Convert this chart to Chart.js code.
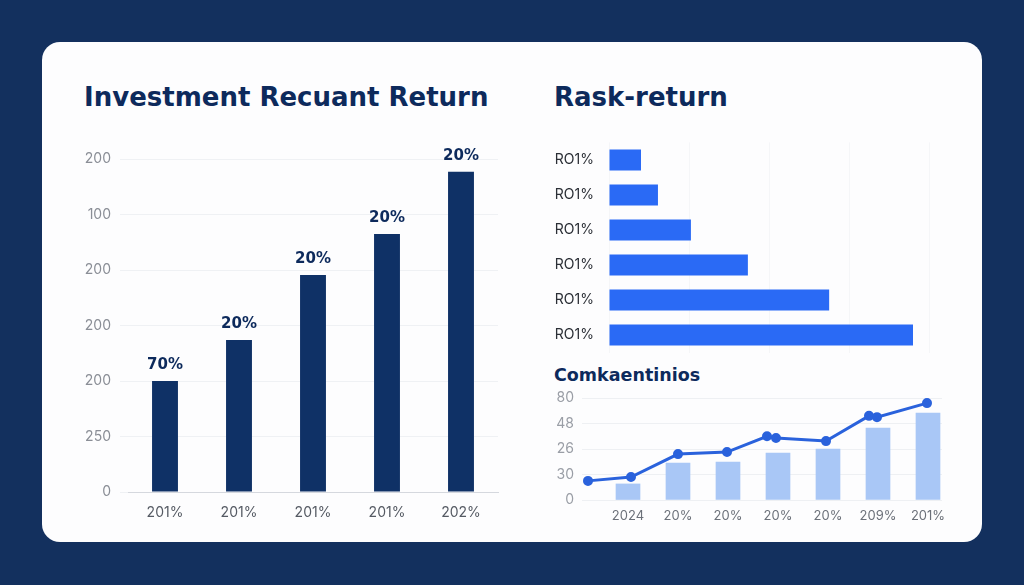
<!DOCTYPE html>
<html>
<head>
<meta charset="utf-8">
<script src="https://cdn.jsdelivr.net/npm/chart.js@4.4.1/dist/chart.umd.min.js"></script>
<style>
  html, body { margin: 0; padding: 0; }
  body { width: 1024px; height: 585px; background: #13305e; position: relative; overflow: hidden; font-family: "Inter", sans-serif; }
  .card { position: absolute; left: 42px; top: 42px; width: 940px; height: 500px; background: #fdfdfe; border-radius: 18px; }
  .title { position: absolute; color: #0d2a5c; font-family: "DejaVu Sans", sans-serif; font-weight: bold; white-space: nowrap; line-height: 1; }
  .box { position: absolute; }
</style>
</head>
<body>
<div class="card"></div>
<div class="title" style="left:84px; top:84px; font-size:26px;">Investment Recuant Return</div>
<div class="title" style="left:554px; top:84px; font-size:26px;">Rask-return</div>
<div class="title" style="left:554px; top:367px; font-size:17.5px;">Comkaentinios</div>

<div class="box" style="left:60px; top:130px; width:450px; height:400px;"><canvas id="returns"></canvas></div>
<div class="box" style="left:550px; top:134px; width:390px; height:227px;"><canvas id="risk"></canvas></div>
<div class="box" style="left:545px; top:385px; width:410px; height:145px;"><canvas id="combo"></canvas></div>

<script>
// left chart
const yearLabels = ["201%", "201%", "201%", "201%", "202%"];
const returnValues = [2.0, 2.74, 3.91, 4.65, 5.77];
const returnTags = ["70%", "20%", "20%", "20%", "20%"];
const returnTicks = ["0", "250", "200", "200", "200", "100", "200"];

// risk-return bars
const riskLabels = ["RO1%", "RO1%", "RO1%", "RO1%", "RO1%", "RO1%"];
const riskValues = [10, 15.3, 25.6, 43.4, 68.8, 95];

// bottom combo
const comboLabels = ["2024", "20%", "20%", "20%", "20%", "209%", "201%"];
const comboBars = [0.63, 1.45, 1.49, 1.84, 2.0, 2.82, 3.41];
const comboLineX = [0.2, 1.06, 2, 2.98, 3.78, 3.96, 4.96, 5.82, 5.98, 6.98];
const comboLineY = [0.75, 0.9, 1.8, 1.88, 2.5, 2.43, 2.31, 3.3, 3.25, 3.8];
const comboTicks = ["0", "30", "26", "48", "80"];

Chart.defaults.font.family = "Inter, sans-serif";
Chart.defaults.animation = false;
Chart.defaults.responsive = true;
Chart.defaults.maintainAspectRatio = false;
Chart.defaults.plugins.legend.display = false;
Chart.defaults.plugins.tooltip.enabled = false;

// value tags above the left bars
const barTags = {
  id: "barTags",
  afterDatasetsDraw(chart) {
    const ctx = chart.ctx;
    const meta = chart.getDatasetMeta(0);
    ctx.save();
    ctx.fillStyle = "#0d2a5c";
    ctx.font = "bold 15px 'DejaVu Sans', sans-serif";
    ctx.textAlign = "center";
    ctx.textBaseline = "alphabetic";
    meta.data.forEach((bar, i) => {
      ctx.fillText(returnTags[i], bar.x, bar.y - 12);
    });
    ctx.restore();
  }
};

new Chart(document.getElementById("returns"), {
  type: "bar",
  data: {
    labels: yearLabels,
    datasets: [{
      data: returnValues,
      backgroundColor: "#0f3166",
      barPercentage: 0.35,
      categoryPercentage: 1
    }]
  },
  options: {
    layout: { padding: { top: 29, right: 12 } },
    scales: {
      x: {
        grid: { display: false },
        border: { color: "#d5d8de" },
        ticks: { color: "#555a63", font: { size: 14 }, padding: 4 },
        afterFit: s => { s.height = 38; }
      },
      y: {
        min: 0,
        max: 6,
        border: { display: false },
        grid: { color: "#eff1f4", tickLength: 8 },
        ticks: {
          stepSize: 1,
          padding: 9,
          color: "#8a8e96",
          font: { size: 14 },
          callback: v => returnTicks[v]
        },
        afterFit: s => { s.width = 68; }
      }
    }
  },
  plugins: [barTags]
});

new Chart(document.getElementById("risk"), {
  type: "bar",
  data: {
    labels: riskLabels,
    datasets: [{
      data: riskValues,
      backgroundColor: "#2a6af5",
      barPercentage: 0.6,
      categoryPercentage: 1
    }]
  },
  options: {
    indexAxis: "y",
    layout: { padding: { right: 11 } },
    scales: {
      x: {
        min: 0,
        max: 100,
        border: { display: false },
        grid: { color: "#f5f6f8", drawTicks: false },
        ticks: { display: false, stepSize: 25 },
        afterFit: s => { s.height = 0; }
      },
      y: {
        border: { display: false },
        grid: { display: false, tickLength: 15 },
        ticks: { color: "#2b2f36", font: { size: 14 }, padding: 0 },
        afterFit: s => { s.width = 59; }
      }
    }
  }
});

new Chart(document.getElementById("combo"), {
  type: "bar",
  data: {
    datasets: [
      {
        type: "line",
        data: comboLineX.map((x, i) => ({ x: x, y: comboLineY[i] })),
        borderColor: "#2a62dc",
        backgroundColor: "#2a62dc",
        borderWidth: 3,
        pointRadius: 3.5,
        tension: 0,
        order: 0
      },
      {
        type: "bar",
        data: comboBars.map((y, i) => ({ x: i + 1, y: y })),
        backgroundColor: "#a9c7f6",
        barThickness: 24,
        order: 1
      }
    ]
  },
  options: {
    layout: { padding: { top: 13, right: 13 } },
    scales: {
      x: {
        type: "linear",
        min: 0.08,
        max: 7.28,
        offset: false,
        grid: { display: false },
        border: { display: false },
        ticks: {
          color: "#6b7079",
          font: { size: 13 },
          padding: 0,
          callback: v => comboLabels[v - 1]
        },
        afterBuildTicks: s => { s.ticks = comboLabels.map((_, i) => ({ value: i + 1 })); },
        afterFit: s => { s.height = 30; }
      },
      y: {
        min: 0,
        max: 4,
        border: { display: false },
        grid: { color: "#eef0f3", tickLength: 8, tickColor: "transparent" },
        ticks: {
          stepSize: 1,
          padding: 0,
          color: "#9a9ea6",
          font: { size: 14 },
          callback: v => comboTicks[v]
        },
        afterFit: s => { s.width = 37; }
      }
    }
  }
});
</script>
</body>
</html>
